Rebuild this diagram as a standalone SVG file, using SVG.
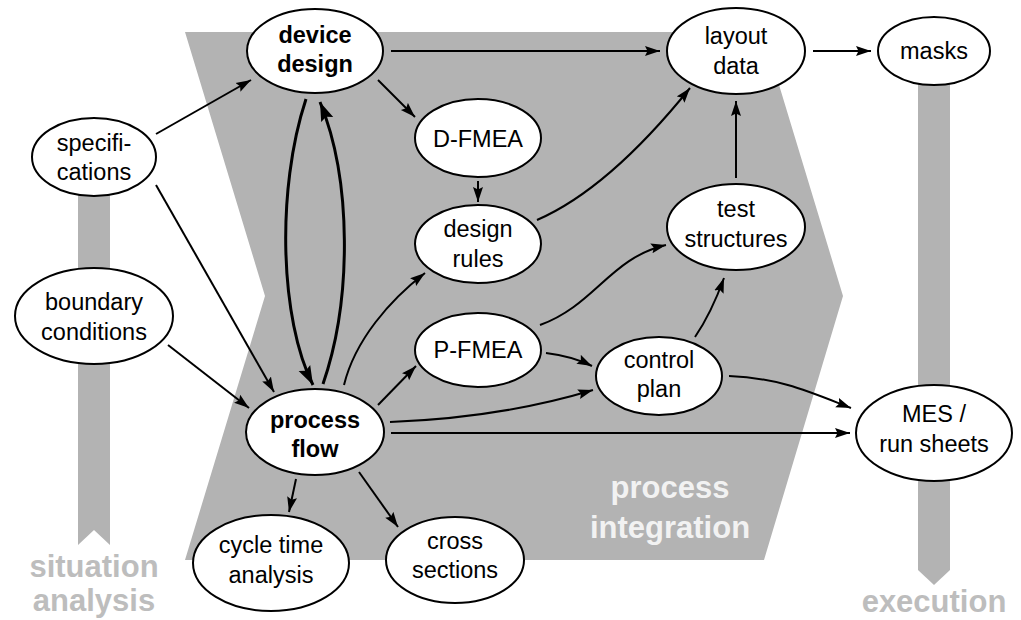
<svg xmlns="http://www.w3.org/2000/svg" width="1021" height="620" viewBox="0 0 1021 620">
<style>
.bg{fill:#b3b3b3;stroke:none}
.node ellipse{fill:#fff;stroke:#000;stroke-width:2}
.node text{font-family:"Liberation Sans",Arial,sans-serif;font-size:23.5px;fill:#000;text-anchor:middle}
.node text.b{font-weight:bold}
.lbl{font-family:"Liberation Sans",Arial,sans-serif;font-size:31px;font-weight:bold;text-anchor:middle}
.grey{fill:#bdbdbd}
.light{fill:#f2f2f2}
#edges path{fill:none;stroke:#000;stroke-width:2;marker-end:url(#ah)}
#edges path.thick{stroke-width:3;marker-end:url(#ahb)}
</style>
<defs>
<marker id="ah" markerUnits="userSpaceOnUse" markerWidth="16" markerHeight="12" refX="15" refY="5.5" orient="auto" viewBox="0 0 16 12">
<path d="M0,0.5 L15,5.5 L0,10.5 L2.5,5.5 z" fill="#000"/>
</marker>
<marker id="ahb" markerUnits="userSpaceOnUse" markerWidth="20" markerHeight="15" refX="19" refY="7" orient="auto" viewBox="0 0 20 15">
<path d="M0,0.5 L19,7 L0,13.5 L3,7 z" fill="#000"/>
</marker>
</defs>
<rect width="1021" height="620" fill="#fff"/>
<g id="background">
<polygon class="bg" points="185,32 763,32 843,296 764,560 185,560 265,296"/>
<polygon class="bg" points="78,150 110,150 110,545 94,530 78,545"/>
<polygon class="bg" points="918,60 950,60 950,570 934,585 918,570"/>
<text class="lbl grey" x="94" y="577">situation</text>
<text class="lbl grey" x="94" y="611">analysis</text>
<text class="lbl grey" x="934" y="612">execution</text>
<text class="lbl light" x="670" y="498">process</text>
<text class="lbl light" x="670" y="538">integration</text>
</g>
<g id="n-device-design" class="node"><ellipse cx="315" cy="51" rx="68" ry="42"/><text class="b" x="315" y="43">device</text><text class="b" x="315" y="72">design</text></g>
<g id="n-specifications" class="node"><ellipse cx="94" cy="157" rx="62" ry="39"/><text x="94" y="151">specifi-</text><text x="94" y="180">cations</text></g>
<g id="n-boundary" class="node"><ellipse cx="94" cy="316" rx="79" ry="48"/><text x="94" y="310">boundary</text><text x="94" y="340">conditions</text></g>
<g id="n-process-flow" class="node"><ellipse cx="315" cy="432" rx="69" ry="43"/><text class="b" x="315" y="428">process</text><text class="b" x="315" y="457">flow</text></g>
<g id="n-cycle-time" class="node"><ellipse cx="271" cy="563" rx="78" ry="48"/><text x="271" y="553">cycle time</text><text x="271" y="583">analysis</text></g>
<g id="n-cross-sections" class="node"><ellipse cx="455" cy="560" rx="69" ry="43"/><text x="455" y="549">cross</text><text x="455" y="578">sections</text></g>
<g id="n-dfmea" class="node"><ellipse cx="478" cy="138" rx="63" ry="39"/><text x="478" y="147">D-FMEA</text></g>
<g id="n-design-rules" class="node"><ellipse cx="478" cy="244" rx="63" ry="39"/><text x="478" y="237">design</text><text x="478" y="267">rules</text></g>
<g id="n-pfmea" class="node"><ellipse cx="478" cy="350" rx="63" ry="37"/><text x="478" y="358">P-FMEA</text></g>
<g id="n-control-plan" class="node"><ellipse cx="659" cy="376" rx="63" ry="39"/><text x="659" y="368">control</text><text x="659" y="397">plan</text></g>
<g id="n-layout-data" class="node"><ellipse cx="736" cy="51" rx="69" ry="43"/><text x="736" y="44">layout</text><text x="736" y="74">data</text></g>
<g id="n-masks" class="node"><ellipse cx="934" cy="51" rx="56" ry="34"/><text x="934" y="59">masks</text></g>
<g id="n-test-structures" class="node"><ellipse cx="736" cy="227" rx="69" ry="43"/><text x="736" y="217">test</text><text x="736" y="247">structures</text></g>
<g id="n-mes" class="node"><ellipse cx="934" cy="433" rx="78" ry="48"/><text x="934" y="422">MES /</text><text x="934" y="452">run sheets</text></g>
<g id="edges">
<path d="M391,51 L660,51"/>
<path d="M813,51 L871,51"/>
<path d="M378,80 L415,117"/>
<path d="M478,181 L478,202"/>
<path d="M537,220 C590,197 640,150 690,88"/>
<path d="M736,178 L736,101"/>
<path d="M156,134 L251,80"/>
<path d="M156,185 L274,392"/>
<path d="M168,345 L249,408"/>
<path class="thick" d="M306,99 C276,190 280,320 313,385"/>
<path class="thick" d="M323,384 C352,300 352,180 320,102"/>
<path d="M344,385 C355,340 390,300 425,273"/>
<path d="M378,405 L416,366"/>
<path d="M390,422 C470,419 540,406 593,390"/>
<path d="M391,433 L850,433"/>
<path d="M296,479 L289,512"/>
<path d="M359,472 L398,527"/>
<path d="M546,353 C562,355 578,359 592,366"/>
<path d="M540,325 C595,305 610,258 666,245"/>
<path d="M695,337 C708,318 716,300 724,278"/>
<path d="M729,376 C780,378 810,392 851,408"/>
</g>
</svg>
